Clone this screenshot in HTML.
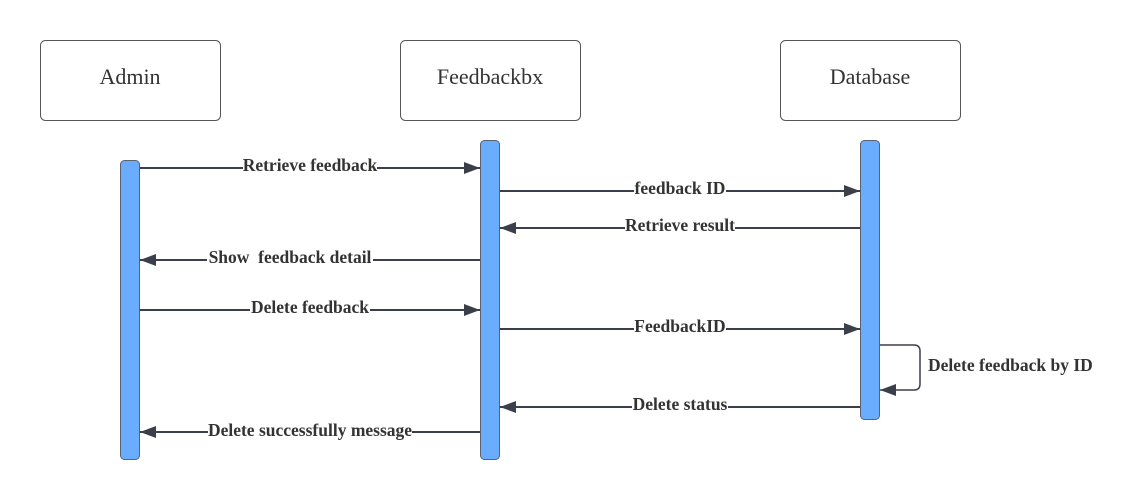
<!DOCTYPE html>
<html><head><meta charset="utf-8"><style>
html,body{margin:0;padding:0;background:#fff}
svg{display:block}
.b{font-family:"Liberation Serif",serif;font-weight:bold;font-size:17.5px;fill:#333}
.h{font-family:"Liberation Serif",serif;font-size:22px;fill:#333}
</style></head><body>
<svg width="1135" height="500" xmlns="http://www.w3.org/2000/svg">
<defs><marker id="a" markerWidth="16" markerHeight="12" refX="16" refY="6" orient="auto" markerUnits="userSpaceOnUse"><path d="M0,0 L16,6 L0,12 Z" fill="#3a3f4a"/></marker></defs>
<g fill="#fff" stroke="#555" stroke-width="1">
<rect x="40.5" y="40.5" width="180" height="80" rx="5"/>
<rect x="400.5" y="40.5" width="180" height="80" rx="5"/>
<rect x="780.5" y="40.5" width="180" height="80" rx="5"/>
</g>
<text class="h" x="130" y="84" text-anchor="middle">Admin</text>
<text class="h" x="490" y="84" text-anchor="middle">Feedbackbx</text>
<text class="h" x="870" y="84" text-anchor="middle">Database</text>
<g fill="#6aadff" stroke="#5a6270" stroke-width="1">
<rect x="120.5" y="160.5" width="19" height="299" rx="4"/>
<rect x="480.5" y="140.5" width="19" height="319" rx="4"/>
<rect x="860.5" y="140.5" width="19" height="279" rx="4"/>
</g>
<g stroke="#3a3f4a" stroke-width="2" fill="none" marker-end="url(#a)">
<line x1="140" y1="168" x2="480" y2="168"/>
<line x1="500" y1="191" x2="860" y2="191"/>
<line x1="860" y1="228" x2="500" y2="228"/>
<line x1="480" y1="260" x2="140" y2="260"/>
<line x1="140" y1="310" x2="480" y2="310"/>
<line x1="500" y1="329" x2="860" y2="329"/>
<line x1="860" y1="407" x2="500" y2="407"/>
<line x1="480" y1="432" x2="140" y2="432"/>
</g>
<path d="M880,345 H914 Q920,345 920,351 V384 Q920,390 914,390 H880" stroke="#3a3f4a" stroke-width="1.5" fill="none" marker-end="url(#a)"/>
<g class="b" text-anchor="middle">
<rect x="243" y="156" width="134" height="16" fill="#fff"/><text x="310" y="171">Retrieve feedback</text>
<rect x="634" y="180" width="92" height="16" fill="#fff"/><text x="680" y="194">feedback ID</text>
<rect x="625" y="217" width="110" height="16" fill="#fff"/><text x="680" y="231">Retrieve result</text>
<rect x="207" y="249" width="166" height="16" fill="#fff"/><text x="290" y="263">Show&#160; feedback detail</text>
<rect x="250" y="299" width="120" height="16" fill="#fff"/><text x="310" y="313">Delete feedback</text>
<rect x="634" y="318" width="92" height="16" fill="#fff"/><text x="680" y="332">FeedbackID</text>
<rect x="632" y="396" width="96" height="16" fill="#fff"/><text x="680" y="410">Delete status</text>
<rect x="208" y="421" width="204" height="16" fill="#fff"/><text x="310" y="436">Delete successfully message</text>
</g>
<text class="b" x="928" y="371">Delete feedback by ID</text>
</svg>
</body></html>
